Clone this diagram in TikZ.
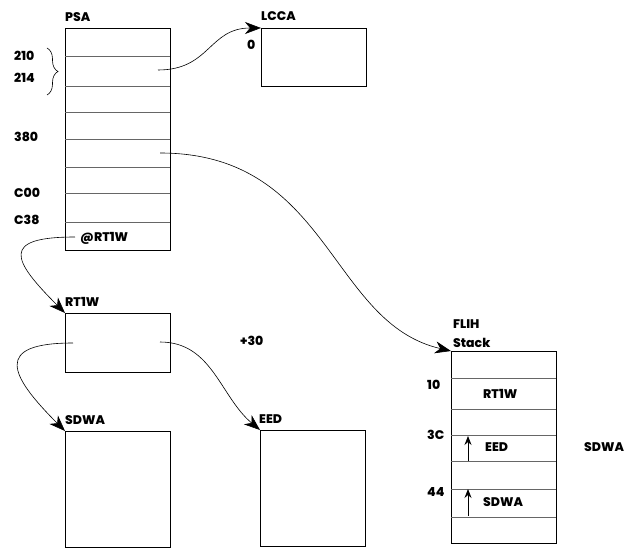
\documentclass[tikz,border=0pt]{standalone}
\usepackage{fontspec}
\setmainfont{Poppins}[UprightFont={* ExtraBold}]
\usetikzlibrary{arrows.meta,decorations.pathreplacing,positioning}
\tikzset{
  box/.style={draw, line width=0.8pt, inner sep=0pt, outer sep=0pt,
    anchor=north west, minimum width=105pt},
  row/.style={draw=black!60, line width=0.8pt},
  lbl/.style={font=\fontsize{12.5}{14}\selectfont, inner sep=0pt, anchor=base west},
  conn/.style={line width=0.6pt, -{Stealth[length=16pt,width=12pt,inset=5pt]}},
  push/.style={line width=0.8pt, -{Stealth[length=9pt,width=7pt,inset=3pt]}},
}
\begin{document}
\begin{tikzpicture}[x=1pt,y=1pt]
  \useasboundingbox (0,0) rectangle (626,-548);
  % boxes
  \node[box, minimum height=222pt] (psa) at (65,-28) {};
  \node[box, minimum height=58pt] (lcca) at (261,-28) {};
  \node[box, minimum height=59pt] (rtw) at (65,-313) {};
  \node[box, minimum height=116pt] (sdwa) at (65,-431) {};
  \node[box, minimum height=116pt] (eed) at (260,-430) {};
  \node[box, minimum height=192pt] (flih) at (451,-351) {};
  % rows of the PSA
  \foreach \y in {56,86,112,139,167,193,222}
    \draw[row] (65,-\y) -- ++(105,0);
  % rows of the stack
  \foreach \y in {378,409,435,461,489,517}
    \draw[row] (451,-\y) -- ++(105,0);
  % labels
  \node[lbl] (psat) at (65,-22) {PSA};
  \node[lbl] (lccat) at (261,-21) {LCCA};
  \node[lbl] (lccaoff) at (247,-50) {0};
  \node[lbl] (off210) at (14,-61) {210};
  \node[lbl] (off214) at (14,-83) {214};
  \node[lbl] (off380) at (14,-142) {380};
  \node[lbl] (offc00) at (14,-197) {C00};
  \node[lbl] (offc38) at (14,-224) {C38};
  \node[lbl] (atrtw) at (80,-241) {@RT1W};
  \node[lbl] (rtwt) at (65,-306) {RT1W};
  \node[lbl] (plus) at (240,-345) {+30};
  \node[lbl] (sdwat) at (65,-424) {SDWA};
  \node[lbl] (eedt) at (259,-423) {EED};
  \node[lbl] (flihta) at (453,-328) {FLIH};
  \node[lbl] (flihtb) at (453,-347) {Stack};
  \node[lbl] (off10) at (427,-389) {10};
  \node[lbl] (off3c) at (427,-439) {3C};
  \node[lbl] (off44) at (427,-496) {44};
  \node[lbl] (strtw) at (483,-398) {RT1W};
  \node[lbl] (steed) at (485,-451) {EED};
  \node[lbl] (stsdwa) at (483,-506) {SDWA};
  \node[lbl] (sdwar) at (584,-451) {SDWA};
  % brace for 210/214
  \draw[decorate, decoration={brace, amplitude=11pt}, line width=0.6pt] (47,-48) -- (47,-95);
  % connectors
  \coordinate (psa2) at (158,-70);
  \coordinate (psa5) at (160,-153);
  \coordinate (psa8) at (75,-237);
  \coordinate (rtwl) at (73,-343);
  \coordinate (rtwr) at (160,-342);
  \draw[conn] (psa2) to[out=0, in=180, looseness=1.2] (lcca.north west);
  \draw[conn] (psa5) .. controls +(170,0) and +(-122,28) .. (flih.north west);
  \draw[conn] (psa8) to[out=180, in=135, looseness=2.5] (rtw.north west);
  \draw[conn] (rtwl) to[out=180, in=135, looseness=2.3] (sdwa.north west);
  \draw[conn] (rtwr) to[out=0, in=140] (eed.north west);
  % pushes in the stack
  \coordinate (eedlo) at (468,-461);
  \coordinate (eedhi) at (468,-436);
  \coordinate (sdwalo) at (468,-516);
  \coordinate (sdwahi) at (468,-489);
  \draw[push] (eedlo) -- (eedhi);
  \draw[push] (sdwalo) -- (sdwahi);
\end{tikzpicture}
\end{document}
